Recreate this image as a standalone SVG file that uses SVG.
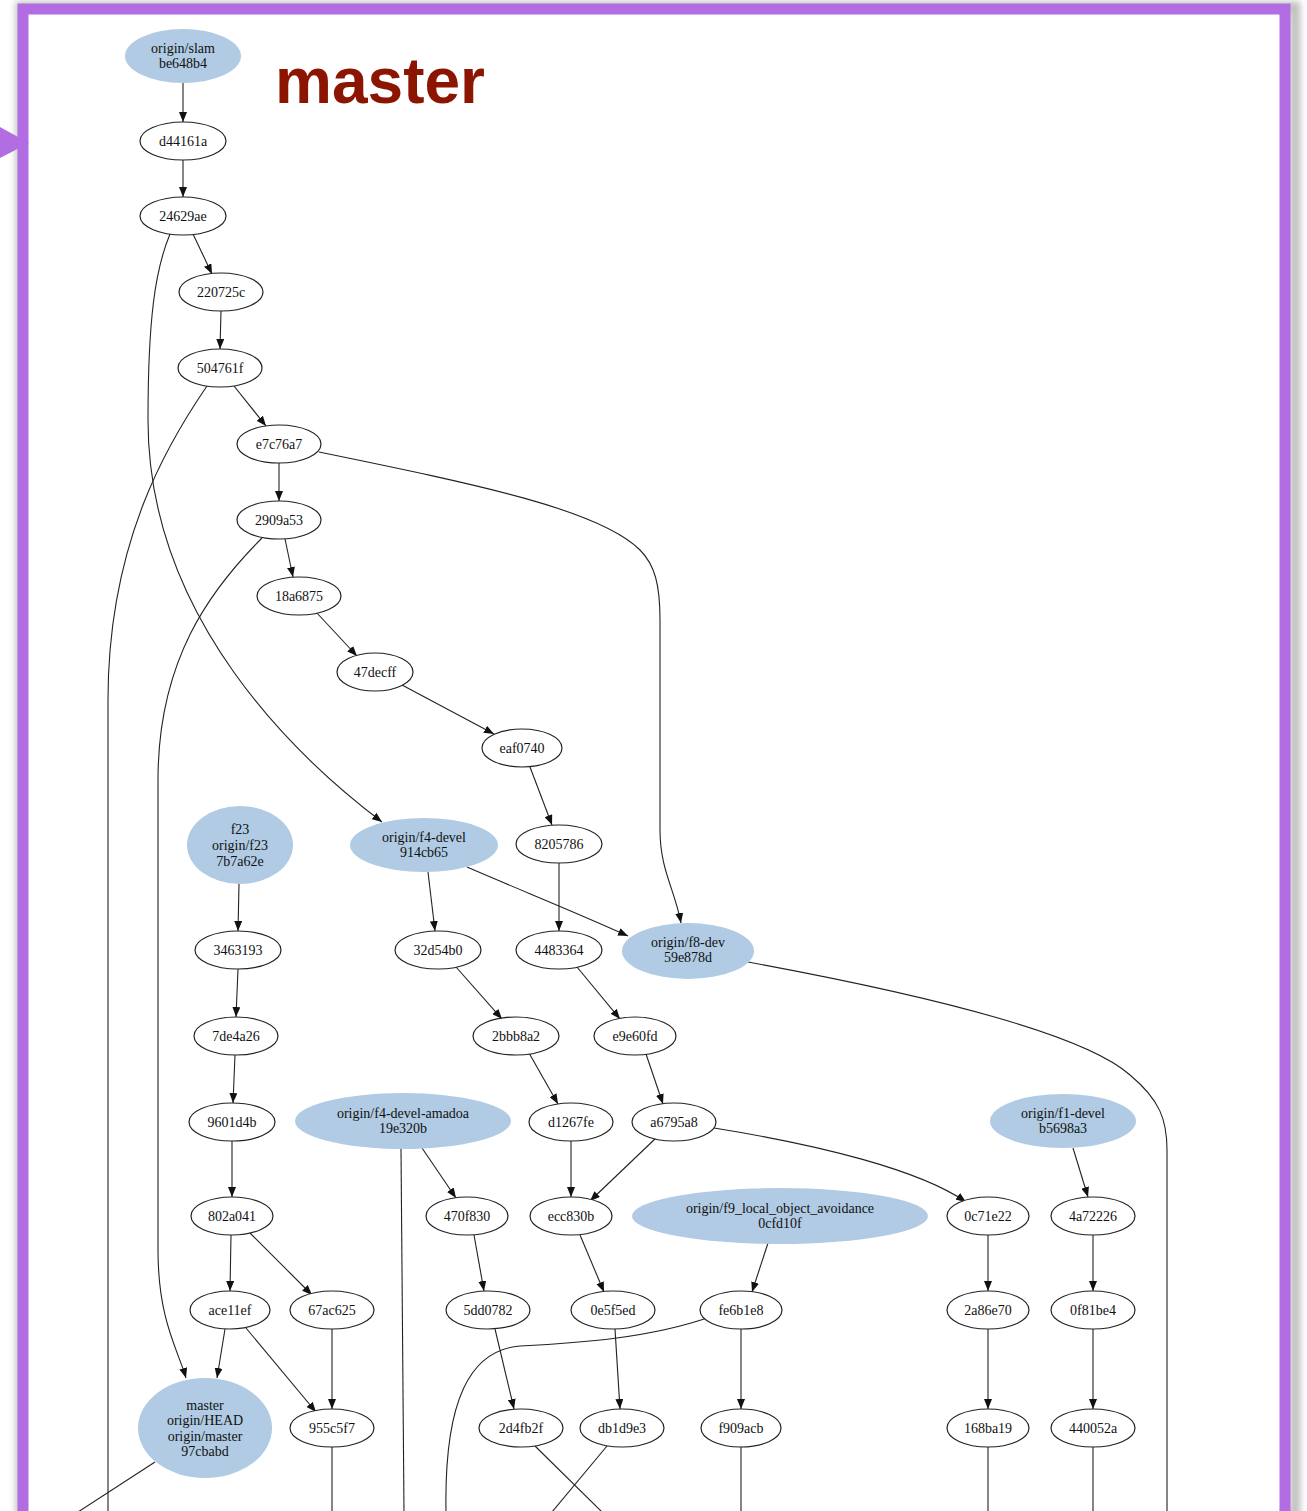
<svg xmlns="http://www.w3.org/2000/svg" width="1307" height="1511" viewBox="0 0 1307 1511">
<style>
.e{fill:none;stroke:#222;stroke-width:1.1}
.n ellipse{fill:#fff;stroke:#222;stroke-width:1.2}
.b ellipse{fill:#b0cbe3;stroke:none}
text{font-family:"Liberation Serif","Times New Roman",serif;font-size:14px;fill:#111;text-anchor:middle}
</style>
<defs>
<marker id="ah" markerUnits="userSpaceOnUse" markerWidth="11" markerHeight="8" refX="10" refY="4" orient="auto"><path d="M0,0 L10,4 L0,8 z" fill="#111"/></marker>
<filter id="sh" x="-5%" y="-5%" width="110%" height="110%"><feGaussianBlur stdDeviation="3"/></filter>
</defs>
<rect width="1307" height="1511" fill="#fff"/>
<rect x="21" y="7" width="1274" height="1510" fill="none" stroke="#999" stroke-width="11" filter="url(#sh)" opacity="0.6"/>
<rect x="28" y="14" width="1251" height="1497" fill="#fff"/>
<g id="connectors">
<path class="e" marker-end="url(#ah)" d="M183,83 L183,122"/>
<path class="e" marker-end="url(#ah)" d="M183,160 L183,197"/>
<path class="e" marker-end="url(#ah)" d="M193,234 L212,274"/>
<path class="e" marker-end="url(#ah)" d="M170,234 C155,270 148,320 148,420 C148,620 300,760 382,822"/>
<path class="e" marker-end="url(#ah)" d="M221,311 L220,349"/>
<path class="e" marker-end="url(#ah)" d="M234,386 L266,426"/>
<path class="e" d="M207,386 C170,440 108,540 108,700 L108,1512"/>
<path class="e" marker-end="url(#ah)" d="M279,463 L279,501"/>
<path class="e" marker-end="url(#ah)" d="M319,452 C480,485 600,510 640,550 C655,565 660,585 660,620 L660,830 C660,870 675,890 681,923"/>
<path class="e" marker-end="url(#ah)" d="M285,539 L293,577"/>
<path class="e" marker-end="url(#ah)" d="M262,538 C210,590 158,660 158,780 L158,1250 C158,1320 178,1350 186,1378"/>
<path class="e" marker-end="url(#ah)" d="M316,612 L357,656"/>
<path class="e" marker-end="url(#ah)" d="M402,685 L494,734"/>
<path class="e" marker-end="url(#ah)" d="M530,767 L552,825"/>
<path class="e" marker-end="url(#ah)" d="M559,863 L559,931"/>
<path class="e" marker-end="url(#ah)" d="M428,872 L435,931"/>
<path class="e" marker-end="url(#ah)" d="M467,867 C520,890 580,914 628,936"/>
<path class="e" marker-end="url(#ah)" d="M239,884 L238,931"/>
<path class="e" marker-end="url(#ah)" d="M238,969 L236,1017"/>
<path class="e" marker-end="url(#ah)" d="M456,967 L502,1019"/>
<path class="e" marker-end="url(#ah)" d="M577,967 L620,1019"/>
<path class="e" d="M748,962 C900,990 1080,1030 1130,1075 C1160,1100 1167,1120 1167,1150 L1167,1512"/>
<path class="e" marker-end="url(#ah)" d="M235,1055 L233,1103"/>
<path class="e" marker-end="url(#ah)" d="M529,1053 L558,1104"/>
<path class="e" marker-end="url(#ah)" d="M646,1054 L663,1104"/>
<path class="e" marker-end="url(#ah)" d="M232,1141 L232,1197"/>
<path class="e" marker-end="url(#ah)" d="M422,1148 L456,1198"/>
<path class="e" d="M401,1149 L404,1512"/>
<path class="e" marker-end="url(#ah)" d="M571,1141 L571,1197"/>
<path class="e" marker-end="url(#ah)" d="M656,1138 L590,1201"/>
<path class="e" marker-end="url(#ah)" d="M714,1128 C820,1145 920,1170 966,1202"/>
<path class="e" marker-end="url(#ah)" d="M1073,1148 L1088,1197"/>
<path class="e" marker-end="url(#ah)" d="M231,1235 L230,1291"/>
<path class="e" marker-end="url(#ah)" d="M250,1233 L312,1295"/>
<path class="e" marker-end="url(#ah)" d="M474,1235 L484,1291"/>
<path class="e" marker-end="url(#ah)" d="M580,1235 L604,1292"/>
<path class="e" marker-end="url(#ah)" d="M768,1243 L752,1292"/>
<path class="e" marker-end="url(#ah)" d="M988,1235 L988,1291"/>
<path class="e" marker-end="url(#ah)" d="M1093,1235 L1093,1291"/>
<path class="e" marker-end="url(#ah)" d="M225,1329 L217,1378"/>
<path class="e" marker-end="url(#ah)" d="M246,1328 L316,1412"/>
<path class="e" marker-end="url(#ah)" d="M332,1329 L332,1409"/>
<path class="e" marker-end="url(#ah)" d="M495,1329 L514,1409"/>
<path class="e" marker-end="url(#ah)" d="M615,1329 L620,1409"/>
<path class="e" marker-end="url(#ah)" d="M741,1329 L741,1409"/>
<path class="e" d="M710,1317 C650,1338 580,1343 520,1346 C470,1350 444,1400 446,1512"/>
<path class="e" marker-end="url(#ah)" d="M988,1329 L988,1409"/>
<path class="e" marker-end="url(#ah)" d="M1093,1329 L1093,1409"/>
<path class="e" d="M155,1462 L78,1512"/>
<path class="e" d="M332,1447 L332,1512"/>
<path class="e" d="M535,1446 L602,1512"/>
<path class="e" d="M607,1446 L552,1512"/>
<path class="e" d="M741,1447 L741,1512"/>
<path class="e" d="M988,1447 L988,1512"/>
<path class="e" d="M1093,1447 L1093,1512"/>
</g>
<g id="n-slam" class="b"><ellipse cx="183" cy="56" rx="58" ry="27"/><text x="183" y="53">origin/slam</text><text x="183" y="68">be648b4</text></g>
<g id="n-d44161a" class="n"><ellipse cx="183" cy="141" rx="43" ry="19"/><text x="183" y="146">d44161a</text></g>
<g id="n-24629ae" class="n"><ellipse cx="183" cy="216" rx="43" ry="19"/><text x="183" y="221">24629ae</text></g>
<g id="n-220725c" class="n"><ellipse cx="221" cy="292" rx="42" ry="19"/><text x="221" y="297">220725c</text></g>
<g id="n-504761f" class="n"><ellipse cx="220" cy="368" rx="42" ry="19"/><text x="220" y="373">504761f</text></g>
<g id="n-e7c76a7" class="n"><ellipse cx="279" cy="444" rx="42" ry="19"/><text x="279" y="449">e7c76a7</text></g>
<g id="n-2909a53" class="n"><ellipse cx="279" cy="520" rx="42" ry="19"/><text x="279" y="525">2909a53</text></g>
<g id="n-18a6875" class="n"><ellipse cx="299" cy="596" rx="42" ry="19"/><text x="299" y="601">18a6875</text></g>
<g id="n-47decff" class="n"><ellipse cx="375" cy="672" rx="38" ry="19"/><text x="375" y="677">47decff</text></g>
<g id="n-eaf0740" class="n"><ellipse cx="522" cy="748" rx="40" ry="19"/><text x="522" y="753">eaf0740</text></g>
<g id="n-8205786" class="n"><ellipse cx="559" cy="844" rx="43" ry="19"/><text x="559" y="849">8205786</text></g>
<g id="n-f4devel" class="b"><ellipse cx="424" cy="845" rx="74" ry="27"/><text x="424" y="842">origin/f4-devel</text><text x="424" y="857">914cb65</text></g>
<g id="n-f23" class="b"><ellipse cx="240" cy="845" rx="53" ry="39"/><text x="240" y="834">f23</text><text x="240" y="850">origin/f23</text><text x="240" y="866">7b7a62e</text></g>
<g id="n-3463193" class="n"><ellipse cx="238" cy="950" rx="43" ry="19"/><text x="238" y="955">3463193</text></g>
<g id="n-32d54b0" class="n"><ellipse cx="438" cy="950" rx="43" ry="19"/><text x="438" y="955">32d54b0</text></g>
<g id="n-4483364" class="n"><ellipse cx="559" cy="950" rx="43" ry="19"/><text x="559" y="955">4483364</text></g>
<g id="n-f8dev" class="b"><ellipse cx="688" cy="951" rx="66" ry="28"/><text x="688" y="947">origin/f8-dev</text><text x="688" y="962">59e878d</text></g>
<g id="n-7de4a26" class="n"><ellipse cx="236" cy="1036" rx="42" ry="19"/><text x="236" y="1041">7de4a26</text></g>
<g id="n-2bbb8a2" class="n"><ellipse cx="516" cy="1036" rx="43" ry="19"/><text x="516" y="1041">2bbb8a2</text></g>
<g id="n-e9e60fd" class="n"><ellipse cx="635" cy="1036" rx="41" ry="19"/><text x="635" y="1041">e9e60fd</text></g>
<g id="n-9601d4b" class="n"><ellipse cx="232" cy="1122" rx="43" ry="19"/><text x="232" y="1127">9601d4b</text></g>
<g id="n-amadoa" class="b"><ellipse cx="403" cy="1121" rx="108" ry="28"/><text x="403" y="1118">origin/f4-devel-amadoa</text><text x="403" y="1133">19e320b</text></g>
<g id="n-d1267fe" class="n"><ellipse cx="571" cy="1122" rx="42" ry="19"/><text x="571" y="1127">d1267fe</text></g>
<g id="n-a6795a8" class="n"><ellipse cx="674" cy="1122" rx="42" ry="19"/><text x="674" y="1127">a6795a8</text></g>
<g id="n-f1devel" class="b"><ellipse cx="1063" cy="1121" rx="73" ry="27"/><text x="1063" y="1118">origin/f1-devel</text><text x="1063" y="1133">b5698a3</text></g>
<g id="n-802a041" class="n"><ellipse cx="232" cy="1216" rx="41" ry="19"/><text x="232" y="1221">802a041</text></g>
<g id="n-470f830" class="n"><ellipse cx="467" cy="1216" rx="41" ry="19"/><text x="467" y="1221">470f830</text></g>
<g id="n-ecc830b" class="n"><ellipse cx="571" cy="1216" rx="41" ry="19"/><text x="571" y="1221">ecc830b</text></g>
<g id="n-f9" class="b"><ellipse cx="780" cy="1216" rx="148" ry="28"/><text x="780" y="1213">origin/f9_local_object_avoidance</text><text x="780" y="1228">0cfd10f</text></g>
<g id="n-0c71e22" class="n"><ellipse cx="988" cy="1216" rx="41" ry="19"/><text x="988" y="1221">0c71e22</text></g>
<g id="n-4a72226" class="n"><ellipse cx="1093" cy="1216" rx="42" ry="19"/><text x="1093" y="1221">4a72226</text></g>
<g id="n-ace11ef" class="n"><ellipse cx="230" cy="1310" rx="40" ry="19"/><text x="230" y="1315">ace11ef</text></g>
<g id="n-67ac625" class="n"><ellipse cx="332" cy="1310" rx="42" ry="19"/><text x="332" y="1315">67ac625</text></g>
<g id="n-5dd0782" class="n"><ellipse cx="488" cy="1310" rx="42" ry="19"/><text x="488" y="1315">5dd0782</text></g>
<g id="n-0e5f5ed" class="n"><ellipse cx="613" cy="1310" rx="42" ry="19"/><text x="613" y="1315">0e5f5ed</text></g>
<g id="n-fe6b1e8" class="n"><ellipse cx="741" cy="1310" rx="41" ry="19"/><text x="741" y="1315">fe6b1e8</text></g>
<g id="n-2a86e70" class="n"><ellipse cx="988" cy="1310" rx="41" ry="19"/><text x="988" y="1315">2a86e70</text></g>
<g id="n-0f81be4" class="n"><ellipse cx="1093" cy="1310" rx="42" ry="19"/><text x="1093" y="1315">0f81be4</text></g>
<g id="n-master" class="b"><ellipse cx="205" cy="1428" rx="67" ry="50"/><text x="205" y="1410">master</text><text x="205" y="1425">origin/HEAD</text><text x="205" y="1441">origin/master</text><text x="205" y="1456">97cbabd</text></g>
<g id="n-955c5f7" class="n"><ellipse cx="332" cy="1428" rx="42" ry="19"/><text x="332" y="1433">955c5f7</text></g>
<g id="n-2d4fb2f" class="n"><ellipse cx="521" cy="1428" rx="42" ry="19"/><text x="521" y="1433">2d4fb2f</text></g>
<g id="n-db1d9e3" class="n"><ellipse cx="622" cy="1428" rx="42" ry="19"/><text x="622" y="1433">db1d9e3</text></g>
<g id="n-f909acb" class="n"><ellipse cx="741" cy="1428" rx="40" ry="19"/><text x="741" y="1433">f909acb</text></g>
<g id="n-168ba19" class="n"><ellipse cx="988" cy="1428" rx="41" ry="19"/><text x="988" y="1433">168ba19</text></g>
<g id="n-440052a" class="n"><ellipse cx="1093" cy="1428" rx="42" ry="19"/><text x="1093" y="1433">440052a</text></g>
<g id="frame">
<path d="M0,1511 L1307,1511 L1307,0 L0,0 Z M23,1520 L23,9 L1285,9 L1285,1520 Z" fill="#fff" fill-rule="evenodd" opacity="0"/>
<rect x="23" y="9" width="1262" height="1510" fill="none" stroke="#b36de2" stroke-width="11"/>
<polygon points="0,127 29,143 0,158" fill="#b36de2"/>
</g>
<text x="380" y="103" style="font-family:'Liberation Sans',Arial,sans-serif;font-size:64px;font-weight:bold;fill:#8b1500">master</text>
</svg>
